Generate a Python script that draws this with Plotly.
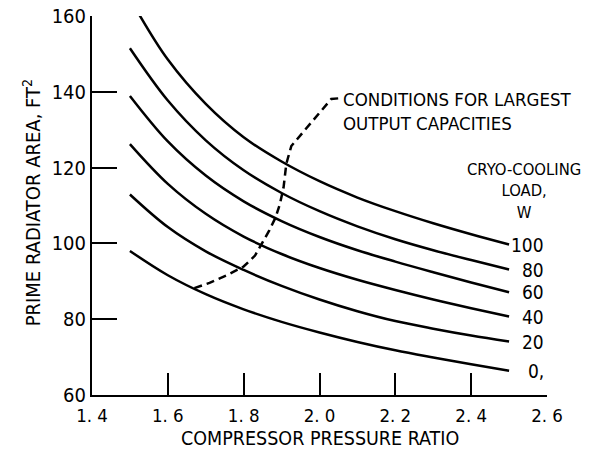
import plotly.graph_objects as go

# Compressor pressure ratio sample points
ratio = [1.5, 1.6, 1.7, 1.8, 1.9, 2.0, 2.1, 2.2, 2.3, 2.4, 2.5]
ratio_100 = [1.525, 1.6, 1.7, 1.8, 1.9, 2.0, 2.1, 2.2, 2.3, 2.4, 2.5]

# Prime radiator area (ft^2) per cryo-cooling load (W)
area_0 = [98.0, 91.6, 86.6, 82.6, 79.3, 76.5, 74.0, 71.8, 69.9, 68.1, 66.4]
area_20 = [112.9, 104.3, 97.9, 93.0, 88.8, 85.2, 82.1, 79.5, 77.5, 75.7, 74.1]
area_40 = [126.2, 115.7, 107.8, 101.8, 97.2, 93.5, 90.4, 87.7, 85.2, 82.9, 80.7]
area_60 = [138.9, 126.9, 117.9, 111.1, 105.9, 101.7, 98.2, 95.2, 92.4, 89.7, 87.1]
area_80 = [151.5, 137.7, 127.2, 119.3, 113.3, 108.5, 104.5, 101.1, 98.2, 95.6, 93.1]
area_100 = [160.3, 148.5, 136.8, 128.0, 121.6, 116.4, 112.1, 108.5, 105.3, 102.4, 99.7]

loads = ["0,", "20", "40", "60", "80", "100"]

# Dashed curve: conditions for largest output capacities (with leader)
cond_x = [1.670, 1.710, 1.760, 1.800, 1.830, 1.849, 1.868, 1.884, 1.895, 1.905, 1.9125, 1.9257, 2.031, 2.053]
cond_y = [88.2, 89.6, 91.8, 93.9, 96.8, 100.1, 103.5, 106.8, 110.2, 114.6, 121.0, 125.7, 138.1, 138.3]

xtick_vals = [1.4, 1.6, 1.8, 2.0, 2.2, 2.4, 2.6]
xtick_text = ["1. 4", "1. 6", "1. 8", "2. 0", "2. 2", "2. 4", "2. 6"]
ytick_vals = [60, 80, 100, 120, 140, 160]

FONT = "DejaVu Sans Condensed, DejaVu Sans, sans-serif"

series = [
    (ratio, area_0),
    (ratio, area_20),
    (ratio, area_40),
    (ratio, area_60),
    (ratio, area_80),
    (ratio_100, area_100),
]

fig = go.Figure()
for xs, ys in series:
    fig.add_trace(go.Scatter(x=xs, y=ys, mode="lines",
                             line=dict(color="black", width=2.5, shape="spline", smoothing=1.0),
                             showlegend=False, hoverinfo="skip"))

fig.add_trace(go.Scatter(x=cond_x, y=cond_y, mode="lines",
                         line=dict(color="black", width=2.5, dash="8px,5px", shape="linear"),
                         showlegend=False, hoverinfo="skip"))

annotations = []
for lab, (xs, ys) in zip(loads, series):
    annotations.append(dict(x=2.598, y=ys[-1], xref="x", yref="y", text=lab,
                            showarrow=False, xanchor="right", yanchor="middle",
                            font=dict(family=FONT, size=19, color="black")))

annotations.append(dict(x=2.058, y=134.9, xref="x", yref="y",
                        text="CONDITIONS FOR LARGEST<br>OUTPUT CAPACITIES",
                        showarrow=False, xanchor="left", yanchor="middle", align="left",
                        font=dict(family=FONT, size=18.5, color="black")))
annotations.append(dict(x=2.540, y=105.0, xref="x", yref="y",
                        text="CRYO-COOLING<br>LOAD,<br>W",
                        showarrow=False, xanchor="center", yanchor="bottom", align="center",
                        font=dict(family=FONT, size=16.5, color="black")))
annotations.append(dict(x=2.0, y=-0.1135, xref="x", yref="paper",
                        text="COMPRESSOR PRESSURE RATIO",
                        showarrow=False, xanchor="center", yanchor="middle",
                        font=dict(family=FONT, size=19.5, color="black")))
annotations.append(dict(x=-0.133, y=0.507, xref="paper", yref="paper",
                        text="PRIME RADIATOR AREA, FT<sup>2</sup>", textangle=-90,
                        showarrow=False, xanchor="center", yanchor="middle",
                        font=dict(family=FONT, size=20, color="black")))

fig.update_layout(
    width=604, height=454,
    margin=dict(l=92, r=57, t=16, b=59),
    paper_bgcolor="white", plot_bgcolor="white",
    font=dict(family=FONT, color="black", size=20),
    annotations=annotations,
    xaxis=dict(range=[1.4, 2.6], tickvals=xtick_vals, ticktext=xtick_text,
               ticks="inside", ticklen=22, tickwidth=2, tickcolor="black",
               showline=True, linewidth=2, linecolor="black", showgrid=False, zeroline=False,
               tickfont=dict(family=FONT, size=18.5), ticklabelstandoff=3, automargin=False),
    yaxis=dict(range=[60, 160], tickvals=ytick_vals,
               ticks="inside", ticklen=25, tickwidth=2, tickcolor="black",
               showline=True, linewidth=2, linecolor="black", showgrid=False, zeroline=False,
               tickfont=dict(family=FONT, size=20), ticklabelstandoff=0, automargin=False),
)

fig.write_html("out.html", config={"displayModeBar": False},
               post_script="document.body.style.margin='0';document.body.style.overflow='hidden';")
